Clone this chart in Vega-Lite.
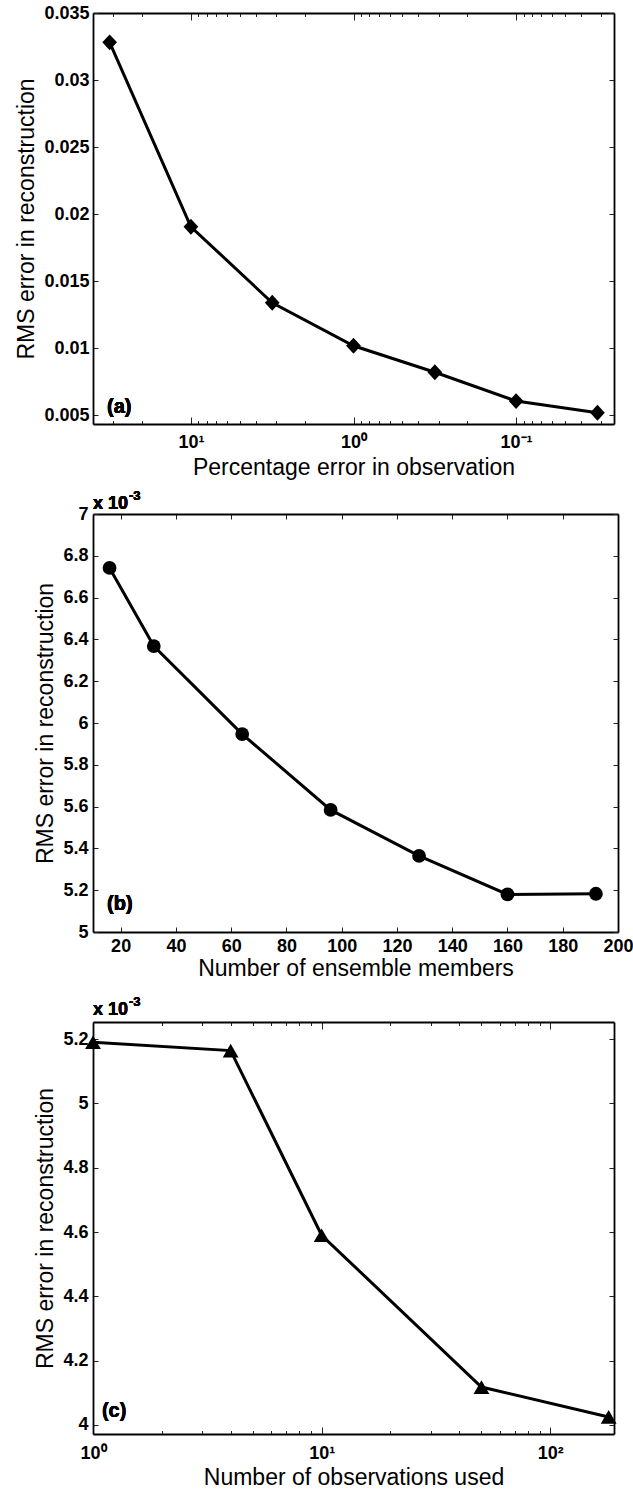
{
  "$schema": "https://vega.github.io/schema/vega-lite/v6.json",
  "background": "white",
  "padding": {"left": 15, "top": 4, "right": 5, "bottom": 5},
  "spacing": 90,
  "bounds": "flush",
  "config": {
    "view": {"stroke": null},
    "axis": {
      "grid": false,
      "labelFont": "Liberation Sans",
      "labelFontWeight": "bold",
      "labelFontSize": 18,
      "labelColor": "black",
      "titleFont": "Liberation Sans",
      "titleFontWeight": "normal",
      "titleFontSize": 23,
      "titleColor": "black",
      "domainColor": "black",
      "domainWidth": 1.8,
      "tickColor": "#222",
      "tickWidth": 1,
      "tickSize": -5,
      "labelPadding": 9,
      "labelOverlap": false,
      "labelFlush": false,
      "titlePadding": 5
    }
  },
  "vconcat": [
    {
      "width": 521,
      "height": 411,
      "data": {"values": [
        {"pct_error": 31.6, "rms_error": 0.03281},
        {"pct_error": 10, "rms_error": 0.01905},
        {"pct_error": 3.16, "rms_error": 0.01338},
        {"pct_error": 1, "rms_error": 0.01017},
        {"pct_error": 0.316, "rms_error": 0.00819},
        {"pct_error": 0.1, "rms_error": 0.00604},
        {"pct_error": 0.0316, "rms_error": 0.00517}
      ]},
      "layer": [
        {
          "mark": {"type": "line", "color": "black", "strokeWidth": 3},
          "encoding": {
            "x": {"field": "pct_error", "type": "quantitative",
              "scale": {"type": "log", "domain": [0.025, 40], "reverse": true, "nice": false},
              "axis": {"title": "Percentage error in observation",
                "values": [0.03,0.04,0.05,0.06,0.07,0.08,0.09,0.1,0.2,0.3,0.4,0.5,0.6,0.7,0.8,0.9,1,2,3,4,5,6,7,8,9,10,20,30,40],
                "labelExpr": "datum.value === 10 ? '10¹' : datum.value === 1 ? '10⁰' : datum.value === 0.1 ? '10⁻¹' : ''",
                "tickSize": {"condition": {"test": "datum.value === 0.1 || datum.value === 1 || datum.value === 10", "value": -7}, "value": -3.5},
                "labelPadding": 16, "titlePadding": 2}},
            "y": {"field": "rms_error", "type": "quantitative",
              "scale": {"domain": [0.00433, 0.035], "nice": false, "zero": false},
              "axis": {"title": "RMS error in reconstruction",
                "values": [0.005,0.01,0.015,0.02,0.025,0.03,0.035],
                "format": "~g"}}
          }
        },
        {
          "mark": {"type": "point", "shape": "M -0.93 0 L 0 -1 L 0.93 0 L 0 1 Z", "filled": true, "color": "black", "opacity": 1, "size": 250},
          "encoding": {
            "x": {"field": "pct_error", "type": "quantitative",
              "scale": {"type": "log", "domain": [0.025, 40], "reverse": true, "nice": false},
              "axis": {"orient": "top", "title": null, "labels": false,
                "values": [0.03,0.04,0.05,0.06,0.07,0.08,0.09,0.1,0.2,0.3,0.4,0.5,0.6,0.7,0.8,0.9,1,2,3,4,5,6,7,8,9,10,20,30,40],
                "tickSize": {"condition": {"test": "datum.value === 0.1 || datum.value === 1 || datum.value === 10", "value": -7}, "value": -3.5}}},
            "y": {"field": "rms_error", "type": "quantitative",
              "scale": {"domain": [0.00433, 0.035], "nice": false, "zero": false},
              "axis": {"orient": "right", "title": null, "labels": false,
                "values": [0.005,0.01,0.015,0.02,0.025,0.03,0.035]}}
          }
        },
        {
          "mark": {"type": "text", "text": "(a)", "font": "Liberation Sans", "fontWeight": "bold", "fontSize": 20, "align": "left", "baseline": "middle", "color": "black"},
          "encoding": {
            "x": {"datum": 32.8, "type": "quantitative", "scale": {"type": "log", "domain": [0.025, 40], "reverse": true, "nice": false}, "axis": null},
            "y": {"datum": 0.0056, "type": "quantitative", "scale": {"domain": [0.00433, 0.035], "nice": false, "zero": false}, "axis": null}
          }
        }
      ],
      "resolve": {"axis": {"x": "independent", "y": "independent"}}
    },
    {
      "width": 525,
      "height": 418,
      "data": {"values": [
        {"members": 16, "rms_error": 0.006742},
        {"members": 32, "rms_error": 0.006368},
        {"members": 64, "rms_error": 0.005947},
        {"members": 96, "rms_error": 0.005584},
        {"members": 128, "rms_error": 0.005364},
        {"members": 160, "rms_error": 0.005180},
        {"members": 192, "rms_error": 0.005183}
      ]},
      "layer": [
        {
          "mark": {"type": "line", "color": "black", "strokeWidth": 3},
          "encoding": {
            "x": {"field": "members", "type": "quantitative",
              "scale": {"domain": [10, 200], "nice": false, "zero": false},
              "axis": {"title": "Number of ensemble members",
                "values": [20,40,60,80,100,120,140,160,180,200], "labelPadding": 10, "titlePadding": 2}},
            "y": {"field": "rms_error", "type": "quantitative",
              "scale": {"domain": [0.005, 0.007], "nice": false, "zero": false},
              "axis": {"title": "RMS error in reconstruction",
                "values": [0.005,0.0052,0.0054,0.0056,0.0058,0.006,0.0062,0.0064,0.0066,0.0068,0.007],
                "labelExpr": "format(datum.value * 1000, '~g')", "labelPadding": 10}}
          }
        },
        {
          "mark": {"type": "point", "shape": "circle", "filled": true, "color": "black", "opacity": 1, "size": 190},
          "encoding": {
            "x": {"field": "members", "type": "quantitative",
              "scale": {"domain": [10, 200], "nice": false, "zero": false},
              "axis": {"orient": "top", "title": null, "labels": false,
                "values": [20,40,60,80,100,120,140,160,180,200]}},
            "y": {"field": "rms_error", "type": "quantitative",
              "scale": {"domain": [0.005, 0.007], "nice": false, "zero": false},
              "axis": {"orient": "right", "title": null, "labels": false,
                "values": [0.005,0.0052,0.0054,0.0056,0.0058,0.006,0.0062,0.0064,0.0066,0.0068,0.007]}}
          }
        },
        {
          "mark": {"type": "text", "text": "(b)", "font": "Liberation Sans", "fontWeight": "bold", "fontSize": 20, "align": "left", "baseline": "middle", "color": "black"},
          "encoding": {
            "x": {"datum": 15.1, "type": "quantitative", "scale": {"domain": [10, 200], "nice": false, "zero": false}, "axis": null},
            "y": {"datum": 0.005134, "type": "quantitative", "scale": {"domain": [0.005, 0.007], "nice": false, "zero": false}, "axis": null}
          }
        },
        {
          "mark": {"type": "text", "text": "x 10", "font": "Liberation Sans", "fontWeight": "bold", "fontSize": 18, "align": "left", "baseline": "alphabetic", "dy": -5, "color": "black"},
          "encoding": {
            "x": {"datum": 10, "type": "quantitative", "scale": {"domain": [10, 200], "nice": false, "zero": false}, "axis": null},
            "y": {"datum": 0.007, "type": "quantitative", "scale": {"domain": [0.005, 0.007], "nice": false, "zero": false}, "axis": null}
          }
        },
        {
          "mark": {"type": "text", "text": "-3", "font": "Liberation Sans", "fontWeight": "bold", "fontSize": 13, "align": "left", "baseline": "alphabetic", "dx": 36, "dy": -14, "color": "black"},
          "encoding": {
            "x": {"datum": 10, "type": "quantitative", "scale": {"domain": [10, 200], "nice": false, "zero": false}, "axis": null},
            "y": {"datum": 0.007, "type": "quantitative", "scale": {"domain": [0.005, 0.007], "nice": false, "zero": false}, "axis": null}
          }
        }
      ],
      "resolve": {"axis": {"x": "independent", "y": "independent"}}
    },
    {
      "width": 521,
      "height": 412,
      "data": {"values": [
        {"observations": 1, "rms_error": 0.00519},
        {"observations": 4, "rms_error": 0.005164},
        {"observations": 10, "rms_error": 0.00459},
        {"observations": 50, "rms_error": 0.004118},
        {"observations": 180, "rms_error": 0.004025}
      ]},
      "layer": [
        {
          "mark": {"type": "line", "color": "black", "strokeWidth": 3},
          "encoding": {
            "x": {"field": "observations", "type": "quantitative",
              "scale": {"type": "log", "domain": [1, 190], "nice": false},
              "axis": {"title": "Number of observations used",
                "values": [1,2,3,4,5,6,7,8,9,10,20,30,40,50,60,70,80,90,100],
                "labelExpr": "datum.value === 1 ? '10⁰' : datum.value === 10 ? '10¹' : datum.value === 100 ? '10²' : ''",
                "tickSize": {"condition": {"test": "datum.value === 1 || datum.value === 10 || datum.value === 100", "value": -7}, "value": -3.5},
                "labelPadding": 17, "titlePadding": 1}},
            "y": {"field": "rms_error", "type": "quantitative",
              "scale": {"domain": [0.003972, 0.005253], "nice": false, "zero": false},
              "axis": {"title": "RMS error in reconstruction",
                "values": [0.004,0.0042,0.0044,0.0046,0.0048,0.005,0.0052],
                "labelExpr": "format(datum.value * 1000, '~g')", "labelPadding": 10}}
          }
        },
        {
          "mark": {"type": "point", "shape": "triangle-up", "filled": true, "color": "black", "opacity": 1, "size": 250},
          "encoding": {
            "x": {"field": "observations", "type": "quantitative",
              "scale": {"type": "log", "domain": [1, 190], "nice": false},
              "axis": {"orient": "top", "title": null, "labels": false,
                "values": [1,2,3,4,5,6,7,8,9,10,20,30,40,50,60,70,80,90,100],
                "tickSize": {"condition": {"test": "datum.value === 1 || datum.value === 10 || datum.value === 100", "value": -7}, "value": -3.5}}},
            "y": {"field": "rms_error", "type": "quantitative",
              "scale": {"domain": [0.003972, 0.005253], "nice": false, "zero": false},
              "axis": {"orient": "right", "title": null, "labels": false,
                "values": [0.004,0.0042,0.0044,0.0046,0.0048,0.005,0.0052]}}
          }
        },
        {
          "mark": {"type": "text", "text": "(c)", "font": "Liberation Sans", "fontWeight": "bold", "fontSize": 20, "align": "left", "baseline": "middle", "color": "black"},
          "encoding": {
            "x": {"datum": 1.094, "type": "quantitative", "scale": {"type": "log", "domain": [1, 190], "nice": false}, "axis": null},
            "y": {"datum": 0.0040435, "type": "quantitative", "scale": {"domain": [0.003972, 0.005253], "nice": false, "zero": false}, "axis": null}
          }
        },
        {
          "mark": {"type": "text", "text": "x 10", "font": "Liberation Sans", "fontWeight": "bold", "fontSize": 18, "align": "left", "baseline": "alphabetic", "dy": -7, "color": "black"},
          "encoding": {
            "x": {"datum": 1, "type": "quantitative", "scale": {"type": "log", "domain": [1, 190], "nice": false}, "axis": null},
            "y": {"datum": 0.005253, "type": "quantitative", "scale": {"domain": [0.003972, 0.005253], "nice": false, "zero": false}, "axis": null}
          }
        },
        {
          "mark": {"type": "text", "text": "-3", "font": "Liberation Sans", "fontWeight": "bold", "fontSize": 13, "align": "left", "baseline": "alphabetic", "dx": 36, "dy": -16, "color": "black"},
          "encoding": {
            "x": {"datum": 1, "type": "quantitative", "scale": {"type": "log", "domain": [1, 190], "nice": false}, "axis": null},
            "y": {"datum": 0.005253, "type": "quantitative", "scale": {"domain": [0.003972, 0.005253], "nice": false, "zero": false}, "axis": null}
          }
        }
      ],
      "resolve": {"axis": {"x": "independent", "y": "independent"}}
    }
  ]
}
